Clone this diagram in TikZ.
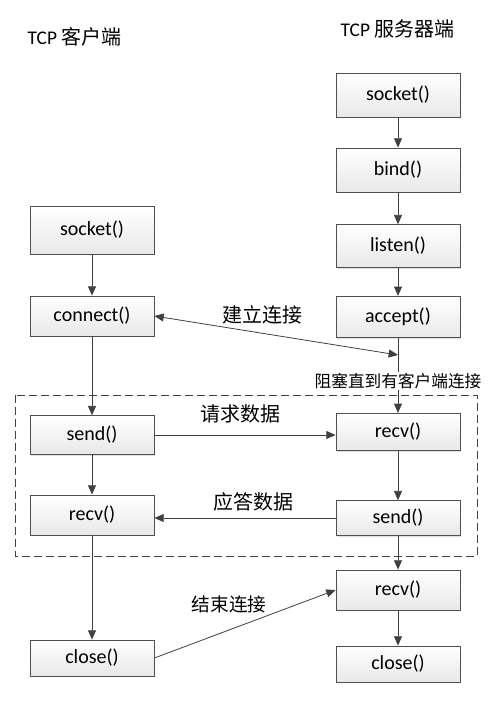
\documentclass[tikz,border=0pt]{standalone}
\usepackage{fontspec}
\setmainfont{Carlito}
\newfontfamily\cjk{Noto Sans CJK SC}
\usetikzlibrary{arrows.meta,positioning,shadows}
\definecolor{tcpline}{HTML}{404040}
\definecolor{tcpedge}{HTML}{505050}

\begin{document}
\begin{tikzpicture}[
  x=0.75pt,y=-0.75pt,
  every node/.style={font=\fontsize{15pt}{17pt}\selectfont},
  B/.style={draw=tcpedge,semithick,
            minimum width=93pt,minimum height=30pt,
            align=center,top color=white,bottom color=gray!18,
            drop shadow={shadow xshift=1pt,shadow yshift=-1pt,opacity=.25}},
  T/.style={anchor=west,font=\fontsize{14.5pt}{16pt}\selectfont},
  L/.style={font=\fontsize{15pt}{17pt}\cjk},
  ar/.style={-{Triangle[length=7pt,width=6pt]},semithick,tcpline},
  ab/.style={{Triangle[length=7pt,width=6pt]}-{Triangle[length=7pt,width=6pt]},semithick,tcpline}
]
\useasboundingbox (0,0) rectangle (489,709);

% titles
\node[T](tc) at (23,37){TCP {\cjk\fontsize{15pt}{17pt}\selectfont 客户端}};
\node[T](ts) at (336,29){TCP {\cjk\fontsize{15pt}{17pt}\selectfont 服务器端}};

% server side
\node[B,minimum height=33pt](sSock) at (398,95){socket()};
\node[B,minimum height=33pt](sBind) at (398,170){bind()};
\node[B,minimum height=32pt](sList) at (398,246){listen()};
\node[B,minimum height=31pt](sAcc) at (398,317){accept()};
\node[B,minimum height=28pt](sRecv) at (398,432){recv()};
\node[B,minimum height=26pt](sSend) at (398,518){send()};
\node[B](sRecvB) at (398,590){recv()};
\node[B,minimum height=27pt](sClose) at (398,664){close()};

% client side
\node[B,minimum height=36pt](cSock) at (92,230){socket()};
\node[B](cConn) at (92,316){connect()};
\node[B,minimum height=29pt](cSend) at (92,435){send()};
\node[B](cRecv) at (92,515){recv()};
\node[B,minimum height=27pt](cClose) at (92,658){close()};

% data exchange frame
\draw[dash pattern=on 6pt off 3pt,tcpline] (15,395) rectangle (477,556);

\coordinate (meet) at (398,355);

\draw[ar](sSock)--(sBind);
\draw[ar](sBind)--(sList);
\draw[ar](sList)--(sAcc);
\draw[ar](sAcc)--node[pos=.57,fill=white,inner sep=1pt,text=black,
  font=\fontsize{12.5pt}{14pt}\cjk]{阻塞直到有客户端连接}(sRecv);
\draw[ar](sRecv)--(sSend);
\draw[ar](sSend)--(sRecvB);
\draw[ar](sRecvB)--(sClose);

\draw[ar](cSock)--(cConn);
\draw[ar](cConn)--(cSend);
\draw[ar](cSend)--(cRecv);
\draw[ar](cRecv)--(cClose);

\draw[ab](cConn.east)--(meet);
\draw[ar](cSend)--(sRecv.west|-cSend);
\draw[ar](sSend)--(cRecv.east|-sSend);
\draw[ar](cClose.east)--(sRecvB.west);

\node[L](lConn) at (262,315){建立连接};
\node[L](lReq) at (240,414){请求数据};
\node[L](lResp) at (253,502){应答数据};
\node[L,font=\fontsize{14pt}{16pt}\cjk](lEnd) at (229,604){结束连接};
\end{tikzpicture}
\end{document}
